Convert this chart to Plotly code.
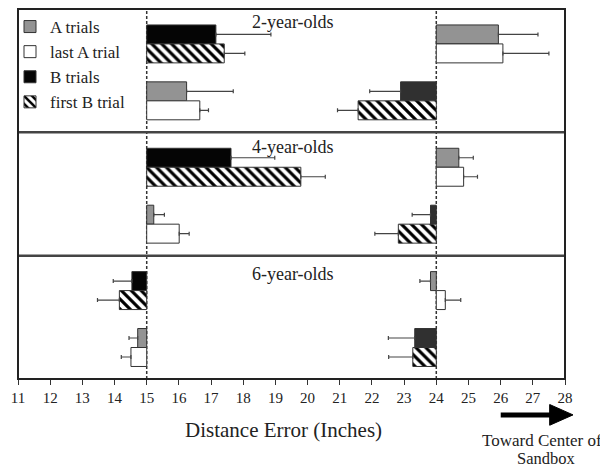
import plotly.graph_objects as go

# ---------------- data ----------------
panels = ["2-year-olds", "4-year-olds", "6-year-olds"]
# two counterbalanced conditions per panel: A location / B location (inches)
a_location = [24, 15]
b_location = [15, 24]

# mean end positions (inches) [panel][condition]
a_trials = [[25.93, 16.24], [24.70, 15.22], [23.82, 14.72]]
last_a_trial = [[26.07, 16.65], [24.85, 16.01], [24.28, 14.51]]
b_trials = [[17.15, 22.89], [17.62, 23.82], [14.54, 23.33]]
first_b_trial = [[17.41, 21.57], [19.79, 22.82], [14.15, 23.27]]

# standard errors
a_trials_err = [[1.23, 1.45], [0.45, 0.33], [0.33, 0.27]]
last_a_trial_err = [[1.43, 0.27], [0.43, 0.31], [0.48, 0.30]]
b_trials_err = [[1.71, 0.96], [1.36, 0.57], [0.58, 0.82]]
first_b_trial_err = [[0.64, 0.64], [0.76, 0.73], [0.68, 0.75]]

x_ticks = list(range(11, 29))

# ---------------- layout helpers ----------------
SERIF = "Liberation Serif, Times New Roman, serif"
PANEL_H = 6.5
# slot centres within a panel: [condition][upper/lower]
SLOTS = [[1.34, 2.34], [4.34, 5.34]]


def build(values, errs, bases, lower):
    xs, ys, b, plus, minus = [], [], [], [], []
    for p in range(len(panels)):
        for c in range(2):
            v = values[p][c]
            base = bases[c]
            xs.append(v - base)
            b.append(base)
            ys.append(p * PANEL_H + SLOTS[c][1 if lower else 0])
            e = errs[p][c]
            if v >= base:
                plus.append(e)
                minus.append(0)
            else:
                plus.append(0)
                minus.append(e)
    return xs, ys, b, plus, minus


fig = go.Figure()

series = [
    ("A trials", a_trials, a_trials_err, a_location, False, "#939393", None),
    ("last A trial", last_a_trial, last_a_trial_err, a_location, True, "white", None),
    ("B trials", b_trials, b_trials_err, b_location, False, "dark", None),
    ("first B trial", first_b_trial, first_b_trial_err, b_location, True, "white", "\\"),
]

for i, (name, vals, errs, bases, lower, color, pattern) in enumerate(series):
    xs, ys, b, plus, minus = build(vals, errs, bases, lower)
    if color == "dark":
        colors = ["#050505" if bb == 15 else "#303030" for bb in b]
    else:
        colors = color
    marker = dict(color=colors, line=dict(color="#333", width=1))
    if pattern:
        marker["pattern"] = dict(shape=pattern, fgcolor="black", bgcolor="white",
                                 size=7, solidity=0.45, fillmode="replace")
    fig.add_trace(go.Bar(
        name=name, orientation="h", x=xs, y=ys, base=b, width=1,
        legendgroup="g%d" % i,
        marker=marker,
        error_x=dict(type="data", symmetric=False, array=plus, arrayminus=minus,
                     color="#444", thickness=1.2, width=2),
    ))

shapes = []
# dashed reference lines at A/B hiding locations
for xv in (15, 24):
    shapes.append(dict(type="line", xref="x", yref="paper", x0=xv, x1=xv, y0=0, y1=1,
                       line=dict(color="#333", width=1.5, dash="3px,2px"), layer="below"))
# panel separators
for p in range(1, len(panels)):
    shapes.append(dict(type="line", xref="paper", yref="y", x0=0, x1=1,
                       y0=p * PANEL_H, y1=p * PANEL_H, line=dict(color="#444", width=2.5)))
# frame
shapes.append(dict(type="rect", xref="paper", yref="paper", x0=0, x1=1, y0=0, y1=1,
                   line=dict(color="#222", width=2)))
# direction arrow below the axis (shaft + head)
ARROW_Y = -0.097
shapes.append(dict(type="line", xref="paper", yref="paper", x0=0.8825, x1=0.978,
                   y0=ARROW_Y, y1=ARROW_Y, line=dict(color="black", width=5)))
shapes.append(dict(type="path", xref="paper", yref="paper",
                   path="M 0.972 %.4f L 1.0146 %.4f L 0.972 %.4f Z"
                        % (ARROW_Y + 0.028, ARROW_Y, ARROW_Y - 0.028),
                   fillcolor="black", line=dict(color="black", width=1)))

label_offsets = [0.67, 0.76, 0.97]
annotations = []
for p, lab in enumerate(panels):
    annotations.append(dict(text=lab, x=19.55, y=p * PANEL_H + label_offsets[p],
                            xref="x", yref="y", showarrow=False,
                            xanchor="center", yanchor="middle",
                            font=dict(family=SERIF, size=18, color="#222")))

annotations += [
    dict(text="Distance Error (Inches)", x=19.25, y=-0.138, xref="x", yref="paper",
         showarrow=False, xanchor="center", yanchor="middle",
         font=dict(family=SERIF, size=21, color="#222")),
    dict(text="Toward Center of", x=27.30, y=-0.167, xref="x", yref="paper",
         showarrow=False, xanchor="center", yanchor="middle",
         font=dict(family=SERIF, size=17, color="#222")),
    dict(text="Sandbox", x=27.44, y=-0.214, xref="x", yref="paper",
         showarrow=False, xanchor="center", yanchor="middle",
         font=dict(family=SERIF, size=16.5, color="#222")),
]

fig.update_layout(
    width=600, height=461,
    margin=dict(l=10, r=43, t=1, b=90),
    paper_bgcolor="white", plot_bgcolor="white",
    barmode="overlay",
    font=dict(family=SERIF, color="#222"),
    xaxis=dict(range=[11, 28], tickvals=x_ticks, ticks="outside", ticklen=5,
               tickcolor="#333", tickwidth=1, tickfont=dict(family=SERIF, size=15),
               showgrid=False, zeroline=False, showline=False),
    yaxis=dict(range=[len(panels) * PANEL_H, 0], visible=False,
               showgrid=False, zeroline=False),
    legend=dict(x=-0.0146, y=1.0, xanchor="left", yanchor="top",
                bgcolor="rgba(0,0,0,0)", font=dict(family=SERIF, size=17),
                traceorder="normal", tracegroupgap=3),
    shapes=shapes,
    annotations=annotations,
    showlegend=True,
)

fig.write_html("out.html")
